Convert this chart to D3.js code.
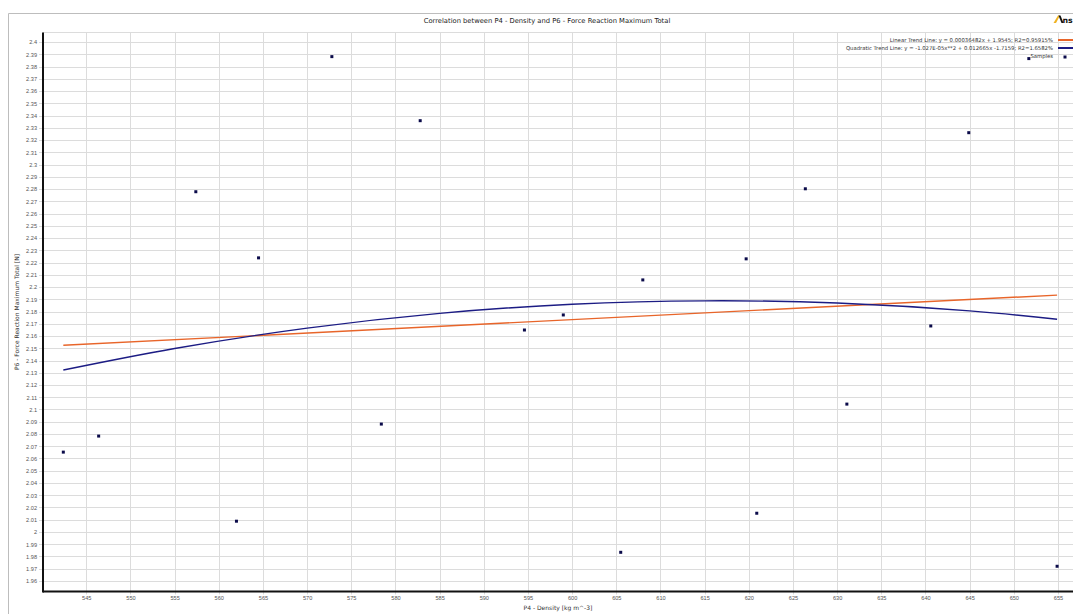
<!DOCTYPE html>
<html>
<head>
<meta charset="utf-8">
<script src="https://cdn.jsdelivr.net/npm/d3@7"></script>
<style>
  body { margin: 0; background: #fff; }
  svg { display: block; font-family: "DejaVu Sans", sans-serif; }
</style>
</head>
<body>
<div id="chart"></div>
<script>
// samples
const densities = [542.4, 546.4, 557.4, 562.0, 564.5, 572.8, 578.4, 582.8, 594.6, 599.0,
                   605.5, 608.0, 619.7, 620.9, 626.4, 631.1, 640.6, 644.9, 651.7, 654.9];
const forces = [2.0652, 2.0783, 2.2778, 2.0088, 2.2238, 2.3881, 2.0881, 2.3358, 2.1649, 2.1772,
                1.9834, 2.2058, 2.2230, 2.0153, 2.2802, 2.1044, 2.1682, 2.3260, 2.3865, 1.9720];

// trend lines, read at a few densities
const linearX = [542.4, 654.9];
const linearY = [2.1524, 2.1934];
const quadX = [542.4, 555, 570, 585, 600, 615, 630, 645, 654.9];
const quadY = [2.1322, 2.1498, 2.1664, 2.1785, 2.1859, 2.1887, 2.1869, 2.1805, 2.1737];

const xTicks = d3.range(545, 656, 5);
const yTicks = d3.range(196, 241).map(function (d) { return d / 100; });

const titleText = "Correlation between P4 - Density and P6 - Force Reaction Maximum Total";
const xLabel = "P4 - Density  [kg m^-3]";
const yLabel = "P6 - Force Reaction Maximum Total  [N]";
const legendLabels = [
    "Linear Trend Line: y = 0.00036482x + 1.9545; R2=0.95915%",
    "Quadratic Trend Line: y = -1.027E-05x**2 + 0.012665x -1.7159; R2=1.6582%",
    "Samples"
];

let width = 1073, height = 614;
let margin = { top: 32.5, right: 0, bottom: 22.5, left: 43 };

let svg = d3.select("#chart").append("svg")
    .attr("width", width)
    .attr("height", height);

// outer panel border
svg.append("path")
    .attr("d", "M8.5," + height + "V13.5H" + width)
    .attr("fill", "none")
    .attr("stroke", "#bdbdbd");

let x = d3.scaleLinear()
    .domain([540.1, 656.7])
    .range([margin.left, width - margin.right]);

let y = d3.scaleLinear()
    .domain([1.9514, 2.4078])
    .range([height - margin.bottom, margin.top]);

let plotTop = margin.top, plotBottom = height - margin.bottom;

// grid
let grid = svg.append("g").attr("stroke", "#dcdcdc").attr("stroke-width", 1);
grid.selectAll(".vgrid")
    .data(xTicks)
    .enter().append("line")
    .attr("x1", function (d) { return Math.round(x(d)) + 0.5; })
    .attr("x2", function (d) { return Math.round(x(d)) + 0.5; })
    .attr("y1", plotTop)
    .attr("y2", plotBottom + 3);
grid.selectAll(".hgrid")
    .data(yTicks)
    .enter().append("line")
    .attr("y1", function (d) { return Math.round(y(d)) + 0.5; })
    .attr("y2", function (d) { return Math.round(y(d)) + 0.5; })
    .attr("x1", margin.left - 4)
    .attr("x2", width);
grid.append("line")
    .attr("x1", margin.left).attr("x2", width)
    .attr("y1", plotTop).attr("y2", plotTop);

// axes
let xAxis = svg.append("g")
    .attr("transform", "translate(0," + plotBottom + ")")
    .call(d3.axisBottom(x).tickValues(xTicks).tickSize(0).tickPadding(5)
        .tickFormat(d3.format("d")));
let yAxis = svg.append("g")
    .attr("transform", "translate(" + margin.left + ",0)")
    .call(d3.axisLeft(y).tickValues(yTicks).tickSize(0).tickPadding(6)
        .tickFormat(function (d) { return String(+d.toFixed(2)); }));

[xAxis, yAxis].forEach(function (a) {
    a.select(".domain").remove();
    a.selectAll("text")
        .style("font-size", "5.6px")
        .attr("fill", "#555");
});

svg.append("line")
    .attr("x1", margin.left).attr("x2", width)
    .attr("y1", plotBottom).attr("y2", plotBottom)
    .attr("stroke", "#111").attr("stroke-width", 2);
svg.append("line")
    .attr("x1", margin.left).attr("x2", margin.left)
    .attr("y1", plotTop).attr("y2", plotBottom + 1)
    .attr("stroke", "#111").attr("stroke-width", 2);

// trend lines
let line = d3.line()
    .x(function (d) { return x(d[0]); })
    .y(function (d) { return y(d[1]); });

svg.append("path")
    .datum(d3.zip(linearX, linearY))
    .attr("d", line)
    .attr("fill", "none")
    .attr("stroke", "#e8652a")
    .attr("stroke-width", 1.4);

svg.append("path")
    .datum(d3.zip(quadX, quadY))
    .attr("d", line.curve(d3.curveNatural))
    .attr("fill", "none")
    .attr("stroke", "#1c1c84")
    .attr("stroke-width", 1.4);

// samples
svg.selectAll(".pt")
    .data(d3.zip(densities, forces))
    .enter().append("rect")
    .attr("x", function (d) { return x(d[0]) - 1.5; })
    .attr("y", function (d) { return y(d[1]) - 1.5; })
    .attr("width", 3)
    .attr("height", 3)
    .attr("fill", "#0b0b4a");

// title
svg.append("text")
    .attr("x", 547)
    .attr("y", 23)
    .attr("text-anchor", "middle")
    .style("font-size", "6.75px")
    .attr("fill", "#222")
    .text(titleText);

// logo (cut off at the right edge, as in the original)
svg.append("path")
    .attr("d", "M1053.5,23L1058,15.5L1060,15.5L1056,23Z")
    .attr("fill", "#f0b323");
svg.append("path")
    .attr("d", "M1058.5,15.5L1060.5,15.5L1063.5,23L1061.5,23Z")
    .attr("fill", "#111");
svg.append("text")
    .attr("x", 1062.5)
    .attr("y", 23)
    .style("font-size", "7.8px")
    .style("font-weight", "bold")
    .attr("fill", "#111")
    .text("ns");

// axis labels
svg.append("text")
    .attr("x", (margin.left + width) / 2)
    .attr("y", 610)
    .attr("text-anchor", "middle")
    .style("font-size", "6px")
    .attr("fill", "#333")
    .text(xLabel);

svg.append("text")
    .attr("transform", "translate(19," + (plotTop + plotBottom) / 2 + ") rotate(-90)")
    .attr("text-anchor", "middle")
    .style("font-size", "6px")
    .attr("fill", "#333")
    .text(yLabel);

// legend
let legend = svg.append("g").style("font-size", "5.3px").attr("fill", "#333");
legendLabels.forEach(function (t, i) {
    legend.append("text")
        .attr("x", 1053)
        .attr("y", 42 + i * 8)
        .attr("text-anchor", "end")
        .text(t);
});
legend.append("line")
    .attr("x1", 1058).attr("x2", 1073).attr("y1", 40).attr("y2", 40)
    .attr("stroke", "#e8652a").attr("stroke-width", 2);
legend.append("line")
    .attr("x1", 1058).attr("x2", 1073).attr("y1", 48).attr("y2", 48)
    .attr("stroke", "#1c1c84").attr("stroke-width", 2);
legend.append("rect")
    .attr("x", 1063.5).attr("y", 55.5).attr("width", 3).attr("height", 3)
    .attr("fill", "#0b0b4a");
</script>
</body>
</html>
